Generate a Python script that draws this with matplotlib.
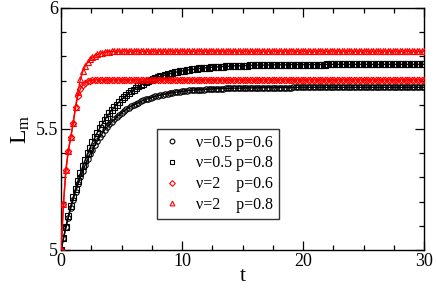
import numpy as np
import matplotlib
matplotlib.use("Agg")
import matplotlib.pyplot as plt
from matplotlib.lines import Line2D
from matplotlib.ticker import MultipleLocator

plt.rcParams['font.family'] = ['Liberation Serif', 'DejaVu Serif']
plt.rcParams['mathtext.fontset'] = 'custom'
plt.rcParams['mathtext.rm'] = 'Liberation Serif'
plt.rcParams['mathtext.it'] = 'Liberation Serif:italic'

# time grid (sampling step 0.2)
t = np.linspace(0, 30, 151)

L_nu05_p06 = [
    5.000, 5.048, 5.093, 5.134, 5.172, 5.208, 5.241, 5.272, 5.300, 5.327,
    5.352, 5.374, 5.396, 5.415, 5.434, 5.451, 5.467, 5.481, 5.495, 5.508,
    5.519, 5.530, 5.540, 5.550, 5.558, 5.567, 5.574, 5.581, 5.588, 5.594,
    5.599, 5.604, 5.609, 5.614, 5.618, 5.622, 5.625, 5.629, 5.632, 5.635,
    5.637, 5.640, 5.642, 5.644, 5.646, 5.648, 5.650, 5.651, 5.653, 5.654,
    5.655, 5.657, 5.658, 5.659, 5.660, 5.661, 5.661, 5.662, 5.663, 5.663,
    5.664, 5.665, 5.665, 5.666, 5.666, 5.667, 5.667, 5.667, 5.668, 5.668,
    5.668, 5.669, 5.669, 5.669, 5.669, 5.669, 5.670, 5.670, 5.670, 5.670,
    5.670, 5.670, 5.670, 5.671, 5.671, 5.671, 5.671, 5.671, 5.671, 5.671,
    5.671, 5.671, 5.671, 5.671, 5.671, 5.671, 5.672, 5.672, 5.672, 5.672,
    5.672, 5.672, 5.672, 5.672, 5.672, 5.672, 5.672, 5.672, 5.672, 5.672,
    5.672, 5.672, 5.672, 5.672, 5.672, 5.672, 5.672, 5.672, 5.672, 5.672,
    5.672, 5.672, 5.672, 5.672, 5.672, 5.672, 5.672, 5.672, 5.672, 5.672,
    5.672, 5.672, 5.672, 5.672, 5.672, 5.672, 5.672, 5.672, 5.672, 5.672,
    5.672, 5.672, 5.672, 5.672, 5.672, 5.672, 5.672, 5.672, 5.672, 5.672,
    5.672,
]

L_nu05_p08 = [
    5.000, 5.049, 5.096, 5.139, 5.180, 5.217, 5.253, 5.286, 5.317, 5.346,
    5.373, 5.399, 5.422, 5.445, 5.465, 5.485, 5.503, 5.520, 5.536, 5.551,
    5.565, 5.578, 5.590, 5.601, 5.612, 5.622, 5.631, 5.640, 5.648, 5.656,
    5.663, 5.670, 5.676, 5.682, 5.687, 5.693, 5.697, 5.702, 5.706, 5.710,
    5.714, 5.717, 5.720, 5.723, 5.726, 5.729, 5.731, 5.734, 5.736, 5.738,
    5.740, 5.741, 5.743, 5.745, 5.746, 5.747, 5.749, 5.750, 5.751, 5.752,
    5.753, 5.754, 5.755, 5.756, 5.756, 5.757, 5.758, 5.758, 5.759, 5.759,
    5.760, 5.760, 5.761, 5.761, 5.761, 5.762, 5.762, 5.762, 5.763, 5.763,
    5.763, 5.764, 5.764, 5.764, 5.764, 5.764, 5.765, 5.765, 5.765, 5.765,
    5.765, 5.765, 5.765, 5.765, 5.766, 5.766, 5.766, 5.766, 5.766, 5.766,
    5.766, 5.766, 5.766, 5.766, 5.766, 5.766, 5.766, 5.766, 5.766, 5.766,
    5.767, 5.767, 5.767, 5.767, 5.767, 5.767, 5.767, 5.767, 5.767, 5.767,
    5.767, 5.767, 5.767, 5.767, 5.767, 5.767, 5.767, 5.767, 5.767, 5.767,
    5.767, 5.767, 5.767, 5.767, 5.767, 5.767, 5.767, 5.767, 5.767, 5.767,
    5.767, 5.767, 5.767, 5.767, 5.767, 5.767, 5.767, 5.767, 5.767, 5.767,
    5.767,
]

L_nu2_p06 = [
    5.000, 5.190, 5.330, 5.410, 5.465, 5.526, 5.592, 5.638, 5.666, 5.681,
    5.691, 5.697, 5.700, 5.702, 5.703, 5.703, 5.703, 5.703, 5.703, 5.703,
    5.703, 5.703, 5.703, 5.703, 5.703, 5.703, 5.703, 5.703, 5.703, 5.703,
    5.703, 5.703, 5.703, 5.703, 5.703, 5.703, 5.703, 5.703, 5.703, 5.703,
    5.703, 5.703, 5.703, 5.703, 5.703, 5.703, 5.703, 5.703, 5.703, 5.703,
    5.703, 5.703, 5.703, 5.703, 5.703, 5.703, 5.703, 5.703, 5.703, 5.703,
    5.703, 5.703, 5.703, 5.703, 5.703, 5.703, 5.703, 5.703, 5.703, 5.703,
    5.703, 5.703, 5.703, 5.703, 5.703, 5.703, 5.703, 5.703, 5.703, 5.703,
    5.703, 5.703, 5.703, 5.703, 5.703, 5.703, 5.703, 5.703, 5.703, 5.703,
    5.703, 5.703, 5.703, 5.703, 5.703, 5.703, 5.703, 5.703, 5.703, 5.703,
    5.703, 5.703, 5.703, 5.703, 5.703, 5.703, 5.703, 5.703, 5.703, 5.703,
    5.703, 5.703, 5.703, 5.703, 5.703, 5.703, 5.703, 5.703, 5.703, 5.703,
    5.703, 5.703, 5.703, 5.703, 5.703, 5.703, 5.703, 5.703, 5.703, 5.703,
    5.703, 5.703, 5.703, 5.703, 5.703, 5.703, 5.703, 5.703, 5.703, 5.703,
    5.703, 5.703, 5.703, 5.703, 5.703, 5.703, 5.703, 5.703, 5.703, 5.703,
    5.703,
]

L_nu2_p08 = [
    5.000, 5.190, 5.330, 5.410, 5.465, 5.524, 5.590, 5.654, 5.705, 5.738,
    5.760, 5.776, 5.788, 5.797, 5.803, 5.808, 5.812, 5.815, 5.817, 5.819,
    5.820, 5.821, 5.821, 5.822, 5.822, 5.822, 5.822, 5.822, 5.822, 5.822,
    5.822, 5.822, 5.822, 5.822, 5.822, 5.822, 5.822, 5.822, 5.822, 5.822,
    5.822, 5.822, 5.822, 5.822, 5.822, 5.822, 5.822, 5.822, 5.822, 5.822,
    5.822, 5.822, 5.822, 5.822, 5.822, 5.822, 5.822, 5.822, 5.822, 5.822,
    5.822, 5.822, 5.822, 5.822, 5.822, 5.822, 5.822, 5.822, 5.822, 5.822,
    5.822, 5.822, 5.822, 5.822, 5.822, 5.822, 5.822, 5.822, 5.822, 5.822,
    5.822, 5.822, 5.822, 5.822, 5.822, 5.822, 5.822, 5.822, 5.822, 5.822,
    5.822, 5.822, 5.822, 5.822, 5.822, 5.822, 5.822, 5.822, 5.822, 5.822,
    5.822, 5.822, 5.822, 5.822, 5.822, 5.822, 5.822, 5.822, 5.822, 5.822,
    5.822, 5.822, 5.822, 5.822, 5.822, 5.822, 5.822, 5.822, 5.822, 5.822,
    5.822, 5.822, 5.822, 5.822, 5.822, 5.822, 5.822, 5.822, 5.822, 5.822,
    5.822, 5.822, 5.822, 5.822, 5.822, 5.822, 5.822, 5.822, 5.822, 5.822,
    5.822, 5.822, 5.822, 5.822, 5.822, 5.822, 5.822, 5.822, 5.822, 5.822,
    5.822,
]

labels = ["\u03bd=0.5 p=0.6", "\u03bd=0.5 p=0.8", "\u03bd=2    p=0.6", "\u03bd=2    p=0.8"]
x_ticks = [0, 10, 20, 30]
y_ticks = [5, 5.5, 6]
y_tick_labels = ["5", "5.5", "6"]

series = [
    (L_nu05_p06, "black", "o"),
    (L_nu05_p08, "black", "s"),
    (L_nu2_p06, "red", "D"),
    (L_nu2_p08, "red", "^"),
]

fig = plt.figure(figsize=(4.36, 2.90), dpi=100)
ax = fig.add_axes([0.140, 0.138, 0.8325, 0.8345])

handles = []
for (vals, col, mk), lab in zip(series, labels):
    ms = 3.9 if mk != "D" else 3.3
    ax.plot(t, vals, color=col, lw=1.0, marker=mk, ms=ms, mfc="none",
            mec=col, mew=0.8, zorder=3)
    lms = 3.4 if mk != "D" else 2.9
    handles.append(Line2D([], [], ls="none", marker=mk, ms=lms, mfc="none",
                          mec=col, mew=0.8, label=lab))

ax.set_xlim(0, 30)
ax.set_ylim(5, 6)
ax.set_xticks(x_ticks)
ax.set_yticks(y_ticks)
ax.set_yticklabels(y_tick_labels)
ax.xaxis.set_minor_locator(MultipleLocator(2.5))
ax.yaxis.set_minor_locator(MultipleLocator(0.1))
ax.tick_params(which="both", direction="in", top=True, right=True,
               labelsize=13, pad=2)
ax.tick_params(which="major", length=6.5, width=0.9)
ax.tick_params(which="minor", length=3.5, width=0.9)
for sp in ax.spines.values():
    sp.set_linewidth(1.0)

ax.set_xlabel("t", fontsize=16, labelpad=-2)
ax.set_ylabel(r"$\mathrm{L}_\mathrm{m}$", fontsize=17, labelpad=3)

leg = ax.legend(handles=handles, loc="upper left", bbox_to_anchor=(0.2645, 0.5),
                borderaxespad=0, fontsize=11.5, frameon=True, fancybox=False,
                edgecolor="black", handlelength=1.2, handletextpad=0.9,
                labelspacing=0.3, borderpad=0.35, numpoints=1)
leg.get_frame().set_linewidth(1.0)

fig.savefig("out.png", dpi=100)
